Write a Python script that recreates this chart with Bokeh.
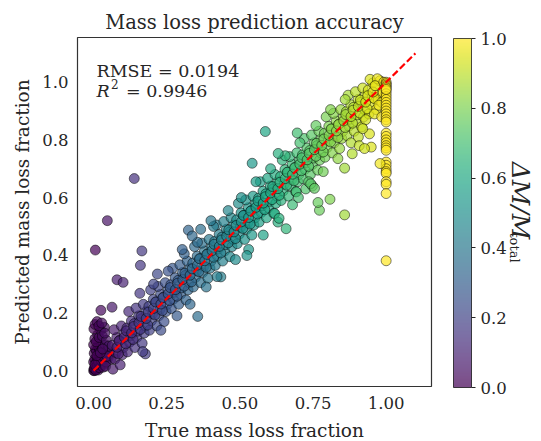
import math
from bokeh.plotting import figure
from bokeh.layouts import row
from bokeh.models import (ColumnDataSource, LinearColorMapper, ColorBar, FixedTicker,
                          PrintfTickFormatter, Label, Range1d)
from bokeh.palettes import Viridis256
from bokeh.embed import file_html
from bokeh.resources import INLINE

FONT = "DejaVu Serif"
TXT = "#262626"

# ---------------- data ----------------
# dense cluster near the origin
blob_true = [0.000, 0.003, 0.006, 0.010, 0.014, 0.018, 0.022, 0.026, 0.030, 0.035,
             0.000, 0.004, 0.008, 0.012, 0.016, 0.020, 0.025, 0.030, 0.036, 0.042,
             0.002, 0.006, 0.010, 0.015, 0.020, 0.026, 0.032, 0.040, 0.048, 0.055,
             0.000, 0.004, 0.009, 0.014, 0.019, 0.024, 0.030, 0.037, 0.044, 0.052,
             0.001, 0.005, 0.012, 0.018, 0.028, 0.038, 0.050, 0.060, 0.003, 0.016,
             0.002, 0.008, 0.013, 0.017, 0.021, 0.027, 0.033, 0.038, 0.043, 0.047,
             0.005, 0.011, 0.023, 0.031, 0.041]
blob_pred = [0.000, 0.004, 0.010, 0.006, 0.016, 0.012, 0.024, 0.018, 0.028, 0.022,
             0.030, 0.040, 0.026, 0.045, 0.035, 0.055, 0.040, 0.060, 0.048, 0.065,
             0.060, 0.075, 0.068, 0.085, 0.072, 0.095, 0.080, 0.090, 0.070, 0.060,
             0.090, 0.110, 0.100, 0.125, 0.115, 0.140, 0.120, 0.150, 0.105, 0.085,
             0.145, 0.160, 0.170, 0.155, 0.165, 0.130, 0.045, 0.040, 0.000, 0.002,
             0.008, 0.002, 0.020, 0.030, 0.010, 0.035, 0.012, 0.045, 0.030, 0.050,
             0.020, 0.052, 0.062, 0.075, 0.015]

# main band along the diagonal
band_true = [0.066, 0.073, 0.077, 0.064, 0.079, 0.070,
             0.091, 0.098, 0.102, 0.089, 0.104, 0.095,
             0.116, 0.123, 0.127, 0.114, 0.129, 0.120,
             0.141, 0.148, 0.152, 0.139, 0.154, 0.145,
             0.166, 0.173, 0.177, 0.164, 0.179, 0.170,
             0.191, 0.198, 0.202, 0.189, 0.204, 0.195,
             0.216, 0.223, 0.227, 0.214, 0.229, 0.220,
             0.241, 0.248, 0.252, 0.239, 0.254, 0.245,
             0.266, 0.273, 0.277, 0.264, 0.279, 0.270,
             0.291, 0.298, 0.302, 0.289, 0.304, 0.295,
             0.316, 0.323, 0.327, 0.314, 0.329, 0.320,
             0.341, 0.348, 0.352, 0.339, 0.354, 0.345,
             0.366, 0.373, 0.377, 0.364, 0.379, 0.370,
             0.391, 0.398, 0.402, 0.389, 0.404, 0.395,
             0.416, 0.423, 0.427, 0.414, 0.429, 0.420,
             0.441, 0.448, 0.452, 0.439, 0.454, 0.445,
             0.466, 0.473, 0.477, 0.464, 0.479, 0.470,
             0.491, 0.498, 0.502, 0.489, 0.504, 0.495,
             0.516, 0.523, 0.527, 0.514, 0.529, 0.520,
             0.541, 0.548, 0.552, 0.539, 0.554, 0.545,
             0.566, 0.573, 0.577, 0.564, 0.579, 0.570,
             0.591, 0.598, 0.602, 0.589, 0.604, 0.595,
             0.616, 0.623, 0.627, 0.614, 0.629, 0.620,
             0.641, 0.648, 0.652, 0.639, 0.654, 0.645,
             0.666, 0.673, 0.677, 0.664, 0.679, 0.670,
             0.691, 0.698, 0.702, 0.689, 0.704, 0.695,
             0.716, 0.723, 0.727, 0.714, 0.729, 0.720,
             0.741, 0.748, 0.752, 0.739, 0.754, 0.745,
             0.766, 0.773, 0.777, 0.764, 0.779, 0.770,
             0.791, 0.798, 0.802, 0.789, 0.804, 0.795,
             0.816, 0.823, 0.827, 0.814, 0.829, 0.820,
             0.841, 0.848, 0.852, 0.839, 0.854, 0.845,
             0.866, 0.873, 0.877, 0.864, 0.879, 0.870,
             0.891, 0.898, 0.902, 0.889, 0.904, 0.895,
             0.916, 0.923, 0.927, 0.914, 0.929, 0.920,
             0.941, 0.948, 0.952, 0.939, 0.954, 0.945,
             0.966, 0.973, 0.977, 0.964, 0.979, 0.970]
band_pred = [0.005, 0.040, 0.062, 0.088, 0.115, 0.142,
             0.020, 0.055, 0.080, 0.105, 0.130, 0.155,
             0.065, 0.098, 0.122, 0.148, 0.172, 0.205,
             0.080, 0.115, 0.137, 0.163, 0.190, 0.217,
             0.095, 0.130, 0.155, 0.180, 0.205, 0.230,
             0.140, 0.173, 0.197, 0.223, 0.247, 0.280,
             0.155, 0.190, 0.212, 0.238, 0.265, 0.292,
             0.170, 0.205, 0.230, 0.255, 0.280, 0.305,
             0.215, 0.248, 0.272, 0.298, 0.322, 0.355,
             0.230, 0.265, 0.287, 0.313, 0.340, 0.367,
             0.245, 0.280, 0.305, 0.330, 0.355, 0.380,
             0.290, 0.323, 0.347, 0.373, 0.397, 0.430,
             0.305, 0.340, 0.362, 0.388, 0.415, 0.442,
             0.320, 0.355, 0.380, 0.405, 0.430, 0.455,
             0.365, 0.398, 0.422, 0.448, 0.472, 0.505,
             0.380, 0.415, 0.437, 0.463, 0.490, 0.517,
             0.395, 0.430, 0.455, 0.480, 0.505, 0.530,
             0.440, 0.473, 0.497, 0.523, 0.547, 0.580,
             0.455, 0.490, 0.512, 0.538, 0.565, 0.592,
             0.470, 0.505, 0.530, 0.555, 0.580, 0.605,
             0.515, 0.548, 0.572, 0.598, 0.622, 0.655,
             0.530, 0.565, 0.587, 0.613, 0.640, 0.667,
             0.545, 0.580, 0.605, 0.630, 0.655, 0.680,
             0.590, 0.623, 0.647, 0.673, 0.697, 0.730,
             0.605, 0.640, 0.662, 0.688, 0.715, 0.742,
             0.620, 0.655, 0.680, 0.705, 0.730, 0.755,
             0.665, 0.698, 0.722, 0.748, 0.772, 0.805,
             0.680, 0.715, 0.737, 0.763, 0.790, 0.817,
             0.695, 0.730, 0.755, 0.780, 0.805, 0.830,
             0.740, 0.773, 0.797, 0.823, 0.847, 0.880,
             0.755, 0.790, 0.812, 0.838, 0.865, 0.892,
             0.770, 0.805, 0.830, 0.855, 0.880, 0.905,
             0.815, 0.848, 0.872, 0.898, 0.922, 0.955,
             0.830, 0.865, 0.887, 0.913, 0.940, 0.967,
             0.845, 0.880, 0.905, 0.930, 0.955, 0.980,
             0.890, 0.923, 0.947, 0.973, 0.997, 1.010,
             0.905, 0.940, 0.962, 0.988, 1.005, 1.012]

# dense core of the band
core_true = [0.085, 0.080, 0.087, 0.110, 0.105, 0.112, 0.135, 0.130, 0.137,
             0.160, 0.155, 0.162, 0.185, 0.180, 0.187, 0.210, 0.205, 0.212,
             0.235, 0.230, 0.237, 0.260, 0.255, 0.262, 0.285, 0.280, 0.287,
             0.310, 0.305, 0.312, 0.335, 0.330, 0.337, 0.360, 0.355, 0.362,
             0.385, 0.380, 0.387, 0.410, 0.405, 0.412, 0.435, 0.430, 0.437,
             0.460, 0.455, 0.462, 0.485, 0.480, 0.487, 0.510, 0.505, 0.512,
             0.535, 0.530, 0.537, 0.560, 0.555, 0.562, 0.585, 0.580, 0.587,
             0.610, 0.605, 0.612, 0.635, 0.630, 0.637, 0.660, 0.655, 0.662,
             0.685, 0.680, 0.687, 0.710, 0.705, 0.712, 0.735, 0.730, 0.737,
             0.760, 0.755, 0.762, 0.785, 0.780, 0.787, 0.810, 0.805, 0.812,
             0.835, 0.830, 0.837, 0.860, 0.855, 0.862, 0.885, 0.880, 0.887,
             0.910, 0.905, 0.912, 0.935, 0.930, 0.937, 0.960, 0.955, 0.962]
core_pred = [0.058, 0.081, 0.103, 0.093, 0.116, 0.138, 0.108, 0.131, 0.153,
             0.143, 0.166, 0.188, 0.158, 0.181, 0.203, 0.193, 0.216, 0.238,
             0.208, 0.231, 0.253, 0.243, 0.266, 0.288, 0.258, 0.281, 0.303,
             0.293, 0.316, 0.338, 0.308, 0.331, 0.353, 0.343, 0.366, 0.388,
             0.358, 0.381, 0.403, 0.393, 0.416, 0.438, 0.408, 0.431, 0.453,
             0.443, 0.466, 0.488, 0.458, 0.481, 0.503, 0.493, 0.516, 0.538,
             0.508, 0.531, 0.553, 0.543, 0.566, 0.588, 0.558, 0.581, 0.603,
             0.593, 0.616, 0.638, 0.608, 0.631, 0.653, 0.643, 0.666, 0.688,
             0.658, 0.681, 0.703, 0.693, 0.716, 0.738, 0.708, 0.731, 0.753,
             0.743, 0.766, 0.788, 0.758, 0.781, 0.803, 0.793, 0.816, 0.838,
             0.808, 0.831, 0.853, 0.843, 0.866, 0.888, 0.858, 0.881, 0.903,
             0.893, 0.916, 0.938, 0.908, 0.931, 0.953, 0.943, 0.966, 0.988]

# sparser points along the edges of the band
edge_true = [0.205, 0.230, 0.255, 0.285, 0.310, 0.330, 0.355, 0.385, 0.410, 0.435,
             0.460, 0.485, 0.505, 0.530, 0.555, 0.580, 0.605, 0.630, 0.655, 0.680,
             0.705, 0.725, 0.748, 0.735, 0.760, 0.785, 0.810, 0.835, 0.860, 0.880,
             0.905, 0.930, 0.960, 0.985, 0.990, 0.992, 0.985, 0.975, 0.619, 0.634,
             0.658, 0.693, 0.700, 0.742, 0.755]
edge_pred = [0.300, 0.140, 0.345, 0.190, 0.405, 0.230, 0.445, 0.290, 0.500, 0.325,
             0.555, 0.385, 0.600, 0.420, 0.655, 0.470, 0.700, 0.515, 0.745, 0.575,
             0.790, 0.630, 0.640, 0.655, 0.850, 0.690, 0.905, 0.735, 0.940, 0.790,
             0.810, 0.870, 0.890, 0.930, 0.965, 1.000, 0.880, 0.920, 0.545, 0.528,
             0.492, 0.620, 0.600, 0.648, 0.632]

# samples with a true fraction of 1.0
column_true = [1.0] * 34
column_pred = [1.000, 0.995, 0.990, 0.985, 0.980, 0.970, 0.960, 0.950, 0.940, 0.930,
               0.920, 0.910, 0.900, 0.890, 0.880, 0.870, 0.862, 0.823, 0.812, 0.800,
               0.790, 0.780, 0.772, 0.764, 0.723, 0.712, 0.700, 0.690, 0.684, 0.655,
               0.646, 0.614, 0.381, 0.975]

# isolated outliers
outlier_true = [0.139, 0.047, 0.006, 0.165, 0.160, 0.080, 0.101, 0.063, 0.025, 0.356,
                0.177, 0.168, 0.587, 0.696, 0.631, 0.542, 0.858, 0.808, 0.772, 0.767,
                0.858, 0.979, 0.908, 0.949, 0.926, 0.884, 0.943, 0.920, 0.524, 0.422,
                0.401, 0.366, 0.324, 0.337, 0.303, 0.218, 0.158]
outlier_pred = [0.666, 0.520, 0.418, 0.415, 0.365, 0.315, 0.306, 0.220, 0.209, 0.188,
                0.058, 0.066, 0.829, 0.824, 0.753, 0.719, 0.540, 0.594, 0.556, 0.583,
                0.702, 0.718, 0.780, 0.775, 0.770, 0.752, 0.821, 0.839, 0.399, 0.326,
                0.520, 0.490, 0.487, 0.467, 0.420, 0.335, 0.268]

diag = [0.0, 1.1]
cbar_ticks = [0.0, 0.2, 0.4, 0.6, 0.8, 1.0]
x_ticks = [0.0, 0.25, 0.5, 0.75, 1.0]
y_ticks = [0.0, 0.2, 0.4, 0.6, 0.8, 1.0]

true_all = blob_true + band_true + core_true + edge_true + column_true + outlier_true
pred_all = blob_pred + band_pred + core_pred + edge_pred + column_pred + outlier_pred

# ---------------- main figure ----------------
mapper = LinearColorMapper(palette=Viridis256, low=0.0, high=1.0)
src = ColumnDataSource(dict(t=true_all, p=pred_all))

YR = (-0.055, 1.155)

p = figure(frame_width=354, frame_height=349,
           x_range=Range1d(-0.055, 1.155), y_range=Range1d(*YR),
           output_backend="svg", toolbar_location=None,
           min_border_left=77, min_border_right=8, min_border_top=37, min_border_bottom=55,
           title="Mass loss prediction accuracy")

p.title.align = "center"
p.title.text_font = FONT
p.title.text_font_size = "19.5px"
p.title.text_font_style = "normal"
p.title.text_color = TXT
p.title.standoff = 7

p.grid.visible = False
p.outline_line_color = "#333333"
p.outline_line_width = 1.2
p.background_fill_color = "white"
p.border_fill_color = "white"

for ax in (p.xaxis[0], p.yaxis[0]):
    ax.axis_line_color = None
    ax.major_tick_line_color = None
    ax.minor_tick_line_color = None
    ax.major_tick_out = 0
    ax.major_tick_in = 0
    ax.minor_tick_out = 0
    ax.major_label_text_font = FONT
    ax.major_label_text_font_size = "16.5px"
    ax.major_label_text_color = TXT
    ax.axis_label_text_font = FONT
    ax.axis_label_text_font_size = "18.5px"
    ax.axis_label_text_font_style = "normal"
    ax.axis_label_text_color = TXT

p.xaxis.ticker = FixedTicker(ticks=x_ticks)
p.xaxis.formatter = PrintfTickFormatter(format="%.2f")
p.yaxis.ticker = FixedTicker(ticks=y_ticks)
p.yaxis.formatter = PrintfTickFormatter(format="%.1f")
p.xaxis.axis_label = "True mass loss fraction"
p.yaxis.axis_label = "Predicted mass loss fraction"
p.xaxis.major_label_standoff = 10
p.yaxis.major_label_standoff = 9
p.xaxis.axis_label_standoff = 8
p.yaxis.axis_label_standoff = 6

p.scatter("t", "p", source=src, size=10,
          fill_color={"field": "t", "transform": mapper}, fill_alpha=0.7,
          line_color="black", line_alpha=0.7, line_width=0.7)

p.line(diag, diag, line_color="red", line_width=2.2, line_dash="7 3")

def lab(fig, x, y, text, size, style="normal", angle=0.0):
    fig.add_layout(Label(x=x, y=y, text=text,
                         text_font=FONT, text_font_size=size,
                         text_font_style=style, text_color=TXT, angle=angle,
                         text_align="left", text_baseline="alphabetic"))

lab(p, 0.0099, 1.039, "RMSE = 0.0194", "17.5px")
lab(p, 0.0099, 0.971, "R", "17.5px", "italic")
lab(p, 0.0595, 0.9955, "2", "12px")
lab(p, 0.1107, 0.971, "= 0.9946", "17.5px")

# ---------------- colour bar panel ----------------
q = figure(width=101, height=441, x_range=Range1d(0, 101), y_range=Range1d(*YR),
           output_backend="svg", toolbar_location=None,
           x_axis_type=None, y_axis_type=None,
           min_border_left=0, min_border_right=0, min_border_top=37, min_border_bottom=55)
q.outline_line_color = None
q.background_fill_color = "white"
q.border_fill_color = "white"

cb = ColorBar(color_mapper=mapper, ticker=FixedTicker(ticks=cbar_ticks),
              formatter=PrintfTickFormatter(format="%.1f"),
              width=18, height=349, scale_alpha=0.7,
              bar_line_color="black", bar_line_width=1,
              major_tick_out=4, major_tick_in=0, major_tick_line_color=TXT,
              minor_tick_line_color=None, label_standoff=5,
              padding=0, margin=0, location=(14, -3),
              background_fill_color=None, border_line_color=None,
              major_label_text_font=FONT, major_label_text_font_size="16.5px",
              major_label_text_color=TXT)
q.add_layout(cb, "center")

lab(q, 81.0, 0.7216, "\u0394M/M", "25px", "italic", -math.pi / 2)
lab(q, 74.5, 0.4754, "total", "13px", "normal", -math.pi / 2)

open("out.html", "w").write(file_html(row(p, q), INLINE))
